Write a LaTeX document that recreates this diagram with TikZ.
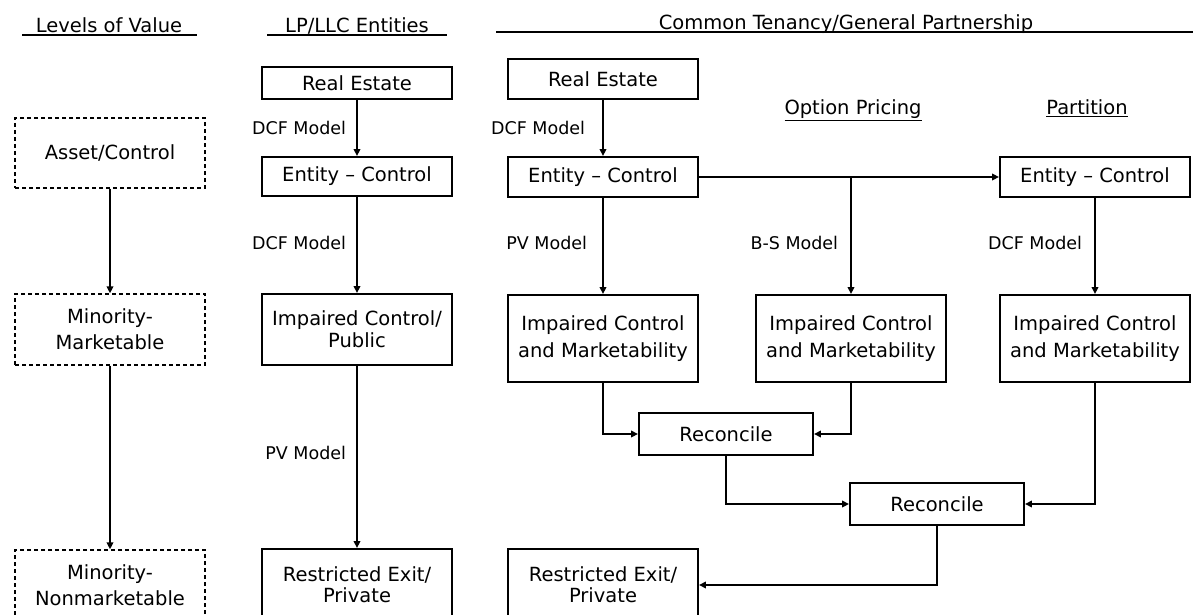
\documentclass[tikz,border=0pt]{standalone}
\usepackage{fontspec}
\setmainfont{DejaVu Sans}
\usetikzlibrary{arrows.meta}
\begin{document}
\begin{tikzpicture}[x=1pt,y=-1pt,
	box/.style={draw,line width=1.9pt,minimum width=190pt,align=center,inner sep=0pt,font=\fontsize{19.5}{21}\selectfont},
	lvbox/.style={draw,dash pattern=on 4pt off 3pt,line width=1.3pt,minimum width=190pt,minimum height=70pt,align=center,inner sep=0pt,font=\fontsize{19.5}{26}\selectfont},
	lbl/.style={font=\fontsize{17.5}{20}\selectfont,inner sep=0pt},
	arr/.style={-{Triangle[length=7pt,width=6.5pt]},line width=1.9pt},
	head/.style={anchor=base,inner sep=0pt,font=\fontsize{19.5}{20}\selectfont}]
		
		\useasboundingbox (0,0) rectangle (1193,615);
		\clip (0,0) rectangle (1193,615);
		
		% Headers
		\node[head] (hlevels) at (109,33) {Levels of Value};
		\node[head] (hlp) at (357,33) {LP/LLC Entities};
		\node[head] (hct) at (846,30) {Common Tenancy/General Partnership};
		\draw[line width=1.2pt] (22,35) -- (197,35);
		\draw[line width=1.2pt] (267,35) -- (447,35);
		\draw[line width=1.2pt] (496,32) -- (1193,32);
		\node[head] (hopt) at (853,115) {\underline{Option Pricing}};
		\node[head] (hpart) at (1087,115) {\underline{Partition}};
		
		% Levels of value
		\node[lvbox] (lvasset) at (110,153) {Asset/Control};
		\node[lvbox,minimum height=71pt] (lvmm) at (110,329.5) {Minority-\\Marketable};
		\node[lvbox] (lvmn) at (110,585) {Minority-\\Nonmarketable};
		\draw[arr] (lvasset) -- (lvmm);
		\draw[arr] (lvmm) -- (lvmn);
		
		% LP/LLC entities
		\node[box,minimum height=32pt] (lpre) at (357,83) {Real Estate};
		\node[box,minimum height=39pt] (lpec) at (357,176.5) {Entity -- Control};
		\node[box,minimum height=71pt,font=\fontsize{19.5}{22}\selectfont] (lpic) at (357,329.5) {Impaired Control/\\Public};
		\node[box,minimum height=72pt] (lprx) at (357,585) {Restricted Exit/\\Private};
		\draw[arr] (lpre) -- node[lbl,left=10pt] {DCF Model} (lpec);
		\draw[arr] (lpec) -- node[lbl,left=10pt,pos=0.48] {DCF Model} (lpic);
		\draw[arr] (lpic) -- node[lbl,left=10pt,pos=0.48] {PV Model} (lprx);
		
		% Common tenancy / general partnership
		\node[box,minimum height=40pt] (ctre) at (603,79) {Real Estate};
		\node[box,minimum height=40pt] (ctec) at (603,177) {Entity -- Control};
		\node[box,minimum height=40pt] (ptec) at (1095,177) {Entity -- Control};
		\node[box,minimum height=87pt,font=\fontsize{19.5}{27}\selectfont] (ic1) at (603,338.5) {Impaired Control\\and Marketability};
		\node[box,minimum height=87pt,font=\fontsize{19.5}{27}\selectfont] (ic2) at (851,338.5) {Impaired Control\\and Marketability};
		\node[box,minimum height=87pt,font=\fontsize{19.5}{27}\selectfont] (ic3) at (1095,338.5) {Impaired Control\\and Marketability};
		\node[box,minimum width=174pt,minimum height=42pt] (rec1) at (726,434) {Reconcile};
		\node[box,minimum width=174pt,minimum height=42pt] (rec2) at (937,504) {Reconcile};
		\node[box,minimum height=72pt] (ctrx) at (603,585) {Restricted Exit/\\Private};
		\coordinate (split) at (ic2 |- ctec.east);
		
		\draw[arr] (ctre) -- node[lbl,left=17pt] {DCF Model} (ctec);
		\draw[arr] (ctec.east) -- (ptec.west);
		\draw[arr] (ctec) -- node[lbl,left=15pt,pos=0.47] {PV Model} (ic1);
		\draw[arr] (split) -- node[lbl,left=12pt,pos=0.56] {B-S Model} (ic2);
		\draw[arr] (ptec) -- node[lbl,left=12pt,pos=0.47] {DCF Model} (ic3);
		
		% Reconcile
		\draw[arr] (ic1.south) |- (rec1.west);
		\draw[arr] (ic2.south) |- (rec1.east);
		\draw[arr] (rec1.south) |- (rec2.west);
		\draw[arr] (ic3.south) |- (rec2.east);
		\draw[arr] (rec2.south) |- (ctrx.east);
		
	\end{tikzpicture}
\end{document}
